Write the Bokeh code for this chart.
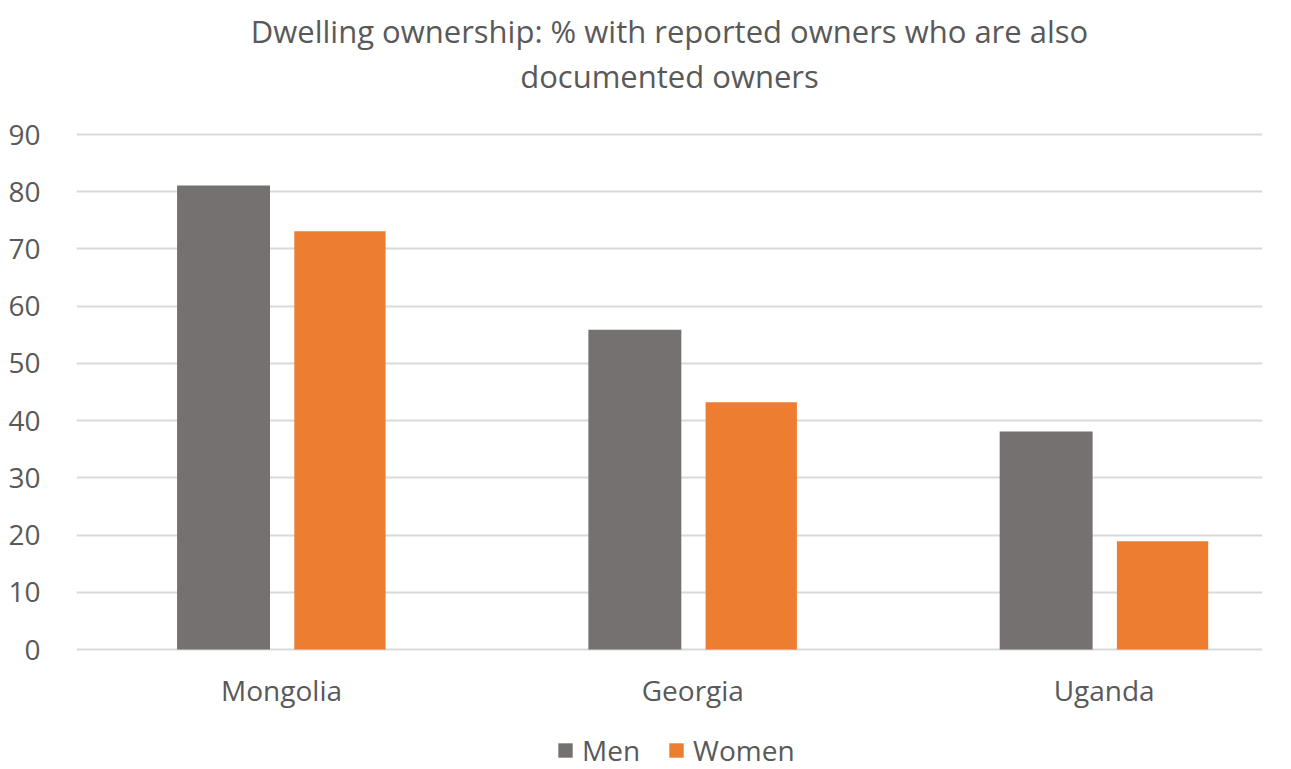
from bokeh.plotting import figure
from bokeh.models import (ColumnDataSource, Legend, LegendItem, FixedTicker, Range1d,
                          Label, LabelSet)
from bokeh.core.properties import value
from bokeh.transform import dodge
from bokeh.embed import file_html
from bokeh.resources import INLINE

countries = ["Mongolia", "Georgia", "Uganda"]
men = [81.1, 55.9, 38.1]
women = [73.1, 43.2, 18.9]
y_ticks = [0, 10, 20, 30, 40, 50, 60, 70, 80, 90]
title_lines = ["Dwelling ownership: % with reported owners who are also", "documented owners"]

FONT = "Open Sans"
TXT = "#595959"
GRID = "#d9d9d9"

# layout (pixels)
W, H = 1291, 769
LEFT, RIGHT = 76, 29
Y0_PX, Y90_PX = 649, 134          # pixel rows of value 0 and value 90
ppu = (Y0_PX - Y90_PX) / 90.0      # pixels per value unit
y_end = 90 + Y90_PX / ppu
y_start = -(H - Y0_PX) / ppu

def y_at(px):
    return y_end - px / ppu

src = ColumnDataSource(dict(x=list(range(len(countries))), men=men, women=women,
                            country=countries,
                            ly=[y_at(689)] * len(countries)))

x_start, x_end = -0.4985, 2.385
p = figure(
    frame_width=W - LEFT - RIGHT, frame_height=H,
    min_border_left=LEFT, min_border_right=RIGHT, min_border_top=0, min_border_bottom=0,
    x_range=Range1d(x_start, x_end), y_range=Range1d(y_start, y_end),
    output_backend="svg", toolbar_location=None,
)

r_men = p.vbar(x=dodge("x", -0.141, range=p.x_range), top="men", width=0.226, source=src,
               fill_color="#767171", line_color=None)
r_women = p.vbar(x=dodge("x", 0.142, range=p.x_range), top="women", width=0.222, source=src,
                 fill_color="#ED7D31", line_color=None)

p.outline_line_color = None
p.xgrid.grid_line_color = None
p.xaxis.visible = False
p.ygrid.ticker = FixedTicker(ticks=y_ticks)
p.ygrid.grid_line_color = GRID
p.ygrid.grid_line_width = 2
p.yaxis.ticker = FixedTicker(ticks=y_ticks)
p.yaxis.axis_line_color = None
p.yaxis.major_tick_line_color = None
p.yaxis.minor_tick_line_color = None
p.yaxis.major_label_text_font = FONT
p.yaxis.major_label_text_font_size = "28px"
p.yaxis.major_label_text_color = TXT
p.yaxis.major_label_standoff = 30

# category labels under the bars
cats = LabelSet(x="x", y="ly", text="country", source=src, text_align="center",
                text_baseline="middle", text_font=value(FONT),
                text_font_size=value("28px"), text_color=TXT)
p.add_layout(cats)

# two-line centred title
x_mid = (x_start + x_end) / 2
for line, py in zip(title_lines, [30, 75]):
    p.add_layout(Label(x=x_mid, y=y_at(py), text=line, text_align="center",
                       text_baseline="middle", text_font=FONT, text_font_size="31px",
                       text_color=TXT))

legend = Legend(items=[LegendItem(label="Men", renderers=[r_men]),
                       LegendItem(label="Women", renderers=[r_women])],
                orientation="horizontal", location=(480, 0))
legend.label_text_font = FONT
legend.label_text_font_size = "28px"
legend.label_text_color = TXT
legend.glyph_width = 18
legend.glyph_height = 18
legend.spacing = 27
legend.label_standoff = 8
legend.border_line_color = None
legend.background_fill_alpha = 0
legend.padding = 0
legend.margin = 0
p.add_layout(legend, "center")

open("out.html", "w").write(file_html(p, INLINE))
